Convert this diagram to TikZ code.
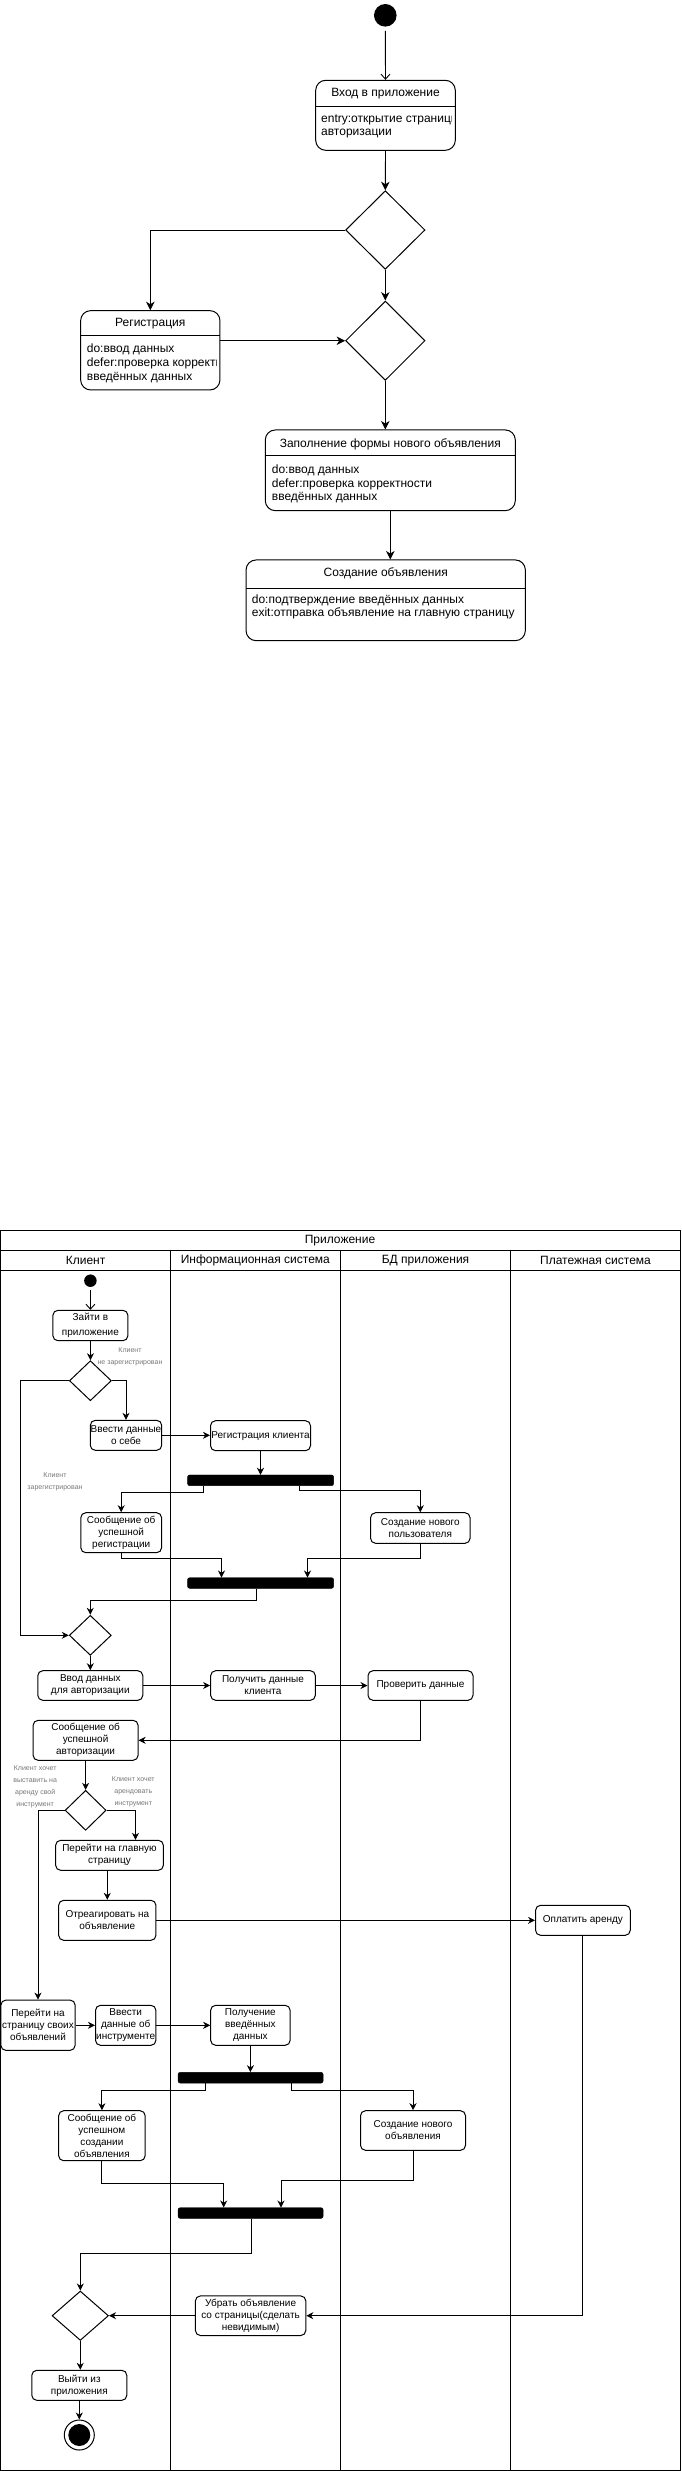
\documentclass[tikz,border=0pt]{standalone}
\usepackage{fontspec}
\setmainfont{Liberation Sans}
\usetikzlibrary{shapes.geometric,arrows.meta,calc}
\definecolor{guardgray}{RGB}{120,120,120}
\begin{document}
\begin{tikzpicture}[x=1pt,y=-1pt,
  ln/.style={line width=0.9pt},
  arr/.style={ln,-{Stealth[length=7pt,width=7pt,inset=2.2pt]}},
  arrT/.style={ln,-{Stealth[length=8.5pt,width=8.5pt,inset=2.6pt]}},
  oarr/.style={ln,-{Straight Barb[length=5pt,width=9pt]}},
  wh/.style 2 args={minimum width=#1pt,minimum height=#2pt},
  stbox/.style={draw,line width=1pt,rounded corners=10pt,inner sep=0pt},
  sttitle/.style={font=\fontsize{12}{14}\selectfont,inner sep=0pt},
  stbody/.style={font=\fontsize{12}{13.7}\selectfont,align=left,anchor=west,inner sep=0pt},
  act/.style={draw,line width=1pt,rounded corners=5pt,align=center,inner sep=0pt,font=\fontsize{10}{12}\selectfont},
  dec/.style={draw,diamond,line width=1pt,inner sep=0pt},
  bar/.style={fill=black,draw=black,rounded corners=2pt,inner sep=0pt},
  guard/.style={text=guardgray,align=center,font=\fontsize{7}{12}\selectfont,inner sep=0pt},
  lanehead/.style={font=\fontsize{12}{14}\selectfont,inner sep=0pt},
  lane/.style={line width=1pt}
]
\useasboundingbox (0,0) rectangle (681,2471);
\fill[white] (0,0) rectangle (681,2471);

% ---------- state diagram ----------
\node[circle,fill=black,minimum size=22.6pt,inner sep=0pt] (s0) at (385.3,15.3) {};

\node[stbox,wh={139.6}{70}] (b1) at (385.5,115.3) {};
\draw[ln] ($(b1.north west)+(0,26.7)$) -- ($(b1.north east)+(0,26.7)$);
\node[sttitle] (b1t) at (385.5,94) {Вход в приложение};
\begin{scope}
\clip (315.7,107) rectangle (451,150);
\node[stbody] (b1b) at (321,126.5) {entry:открытие страницы\\авторизации};
\end{scope}

\node[dec,wh={79.4}{78.6}] (d1) at (385.3,230) {};
\node[dec,wh={79.4}{79.3}] (d2) at (385.3,340.7) {};

\node[stbox,wh={139.3}{79.3}] (reg) at (150.3,350.3) {};
\draw[ln] ($(reg.north west)+(0,25.3)$) -- ($(reg.north east)+(0,25.3)$);
\node[sttitle] (regt) at (150.3,324) {Регистрация};
\begin{scope}
\clip (80.7,336) rectangle (216.3,390);
\node[stbody] (regb) at (86.7,363.5) {do:ввод данных\\defer:проверка корректности\\введённых данных};
\end{scope}

\node[stbox,wh={250}{80.7}] (fill) at (390.3,470.3) {};
\draw[ln] ($(fill.north west)+(0,26)$) -- ($(fill.north east)+(0,26)$);
\node[sttitle] (fillt) at (390.3,444.3) {Заполнение формы нового объявления};
\node[stbody] (fillb) at (271.7,484) {do:ввод данных\\defer:проверка корректности\\введённых данных};

\node[stbox,wh={279.3}{80.7}] (cr) at (385.7,600.3) {};
\draw[ln] ($(cr.north west)+(0,28.7)$) -- ($(cr.north east)+(0,28.7)$);
\node[sttitle] (crt) at (385.7,573.7) {Создание объявления};
\node[stbody] (crb) at (251.7,607) {do:подтверждение введённых данных\\exit:отправка объявление на главную страницу};

\draw[oarr,shorten <=4pt] (s0.south) -- (b1.north);
\draw[arrT] (b1.south) -- (d1.north);
\draw[arrT] (d1.west) -| (reg.north);
\draw[arrT] (d1.south) -- (d2.north);
\draw[arrT] (reg.east |- d2.west) -- (d2.west);
\draw[arrT] (d2.south) -- (d2.south |- fill.north);
\draw[arrT] (fill.south) -- (fill.south |- cr.north);

% ---------- swimlanes ----------
\draw[lane] (0.5,1230) rectangle (680,2470);
\draw[lane] (0.5,1250.3) -- (680,1250.3);
\draw[lane] (0.5,1270.3) -- (680,1270.3);
\draw[lane] (170.3,1250.3) -- (170.3,2470);
\draw[lane] (340.5,1250.3) -- (340.5,2470);
\draw[lane] (510.3,1250.3) -- (510.3,2470);
\node[lanehead] (ptitle) at (340,1240.3) {Приложение};
\node[lanehead] (h1) at (85.6,1260.3) {Клиент};
\node[lanehead] (h2) at (255.3,1260.3) {Информационная система};
\node[lanehead] (h3) at (425.5,1260.3) {БД приложения};
\node[lanehead] (h4) at (595.5,1260.3) {Платежная система};

\node[circle,fill=black,minimum size=12.5pt,inner sep=0pt] (st2) at (90.4,1280.7) {};
\node[act,wh={75}{30.4},font=\fontsize{10}{15}\selectfont] (zaiti) at (90.4,1325.5) {Зайти в\\приложение};
\node[dec,wh={42}{40}] (dA) at (90.4,1380.7) {};
\node[guard] (g1) at (130,1356.7) {Клиент\\не зарегистрирован};
\node[act,wh={71.4}{30}] (vvesti) at (126,1435.3) {Ввести данные\\о себе};
\node[act,wh={100}{30}] (regkl) at (260.5,1435.7) {Регистрация клиента};
\node[bar,wh={146}{10.7}] (bar1) at (260.6,1480.3) {};
\node[guard] (g2) at (55,1481.7) {Клиент\\зарегистрирован};
\node[act,wh={80.8}{40}] (soobreg) at (121.2,1532.7) {Сообщение об\\успешной\\регистрации};
\node[act,wh={99.5}{30.6}] (sozdpolz) at (420.3,1528) {Создание нового\\пользователя};
\node[bar,wh={146}{10.6}] (bar2) at (260.6,1583) {};
\node[dec,wh={42}{40}] (dB) at (90.3,1635.3) {};
\node[act,wh={105}{29.6}] (vvodavt) at (90.3,1685.5) {Ввод данных\\для авторизации};
\node[act,wh={104.7}{29.6}] (poluch) at (263,1685.5) {Получить данные\\клиента};
\node[act,wh={105}{29.6}] (prov) at (420.5,1685.5) {Проверить данные};
\node[act,wh={105}{40}] (soobavt) at (85.6,1740.3) {Сообщение об\\успешной\\авторизации};
\node[dec,wh={41}{40}] (dC) at (85.6,1810.3) {};
\node[guard] (g3) at (35.2,1786.3) {Клиент хочет\\выставить на\\аренду свой\\инструмент};
\node[guard] (g4) at (133.3,1791.3) {Клиент хочет\\арендовать\\инструмент};
\node[act,wh={107.7}{30}] (glav) at (109.5,1855.3) {Перейти на главную\\страницу};
\node[act,wh={97.3}{40}] (otreag) at (107.3,1920.3) {Отреагировать на\\объявление};
\node[act,wh={94.7}{30}] (oplat) at (582.9,1920.3) {Оплатить аренду};
\node[act,wh={74.2}{50.3}] (svoi) at (38,2025.2) {Перейти на\\страницу своих\\объявлений};
\node[act,wh={60.4}{40}] (vvinstr) at (125.7,2025.3) {Ввести\\данные об\\инструменте};
\node[act,wh={79.5}{40}] (poluchvv) at (250.4,2025.3) {Получение\\введённых\\данных};
\node[bar,wh={145}{10.7}] (bar3) at (250.6,2077.7) {};
\node[act,wh={86.5}{50}] (soobsozd) at (101.9,2135.7) {Сообщение об\\успешном\\создании\\объявления};
\node[act,wh={105}{39.6}] (sozdobj) at (413,2130.5) {Создание нового\\объявления};
\node[bar,wh={145}{10.6}] (bar4) at (250.6,2213) {};
\node[dec,wh={56.4}{49.4}] (dD) at (80.3,2315.7) {};
\node[act,wh={110.4}{39.6}] (ubrat) at (250.6,2315.7) {Убрать объявление\\со страницы(сделать\\невидимым)};
\node[act,wh={95}{30}] (vyiti) at (79.3,2385.3) {Выйти из\\приложения};
\node[circle,draw,line width=1pt,minimum size=30pt,inner sep=0pt] (end) at (79.3,2435) {};
\node[circle,fill=black,minimum size=22pt,inner sep=0pt] (endin) at (end.center) {};

\coordinate (lx) at (20.4,1380.7);

\draw[oarr,shorten <=3pt] (st2.south) -- (zaiti.north);
\draw[arr] (zaiti.south) -- (dA.north);
\draw[arr] (dA.west) -- (lx) |- (dB.west);
\draw[arr] (dA.east) -| (vvesti.north);
\draw[arr] (vvesti.east) -- (vvesti.east -| regkl.west);
\draw[arr] (regkl.south) -- (regkl.south |- bar1.north);
\draw[arr] ([xshift=-57.3pt]bar1.south) -- ++(0,6.6) -| (soobreg.north);
\draw[arr] ([xshift=39.1pt]bar1.south) -- ++(0,5) -| (sozdpolz.north);
\draw[arr] (soobreg.south) -- ++(0,5.6) -| ([xshift=-39.1pt]bar2.north);
\draw[arr] (sozdpolz.south) -- ++(0,15) -| ([xshift=46.9pt]bar2.north);
\draw[arr] ([xshift=-3.9pt]bar2.south) -- ++(0,11.7) -| (dB.north);
\draw[arr] (dB.south) -- (vvodavt.north);
\draw[arr] (vvodavt.east) -- (poluch.west);
\draw[arr] (poluch.east) -- (prov.west);
\draw[arr] (prov.south) |- (soobavt.east);
\draw[arr] (soobavt.south) -- (dC.north);
\draw[arr] (dC.west) -| (svoi.north);
\draw[arr] (dC.east) -| ([xshift=26pt]glav.north);
\draw[arr] (otreag.north |- glav.south) -- (otreag.north);
\draw[arr] (otreag.east) -- (oplat.west);
\draw[arr] (oplat.south) |- (ubrat.east);
\draw[arr] (svoi.east |- vvinstr.west) -- (vvinstr.west);
\draw[arr] (vvinstr.east) -- (poluchvv.west);
\draw[arr] (poluchvv.south) -- (poluchvv.south |- bar3.north);
\draw[arr] ([xshift=-44.7pt]bar3.south) -- ++(0,7) -| (soobsozd.north);
\draw[arr] ([xshift=40.8pt]bar3.south) -- ++(0,7) -| (sozdobj.north);
\draw[arr] (soobsozd.south) -- ++(0,22.6) -| ([xshift=-26.9pt]bar4.north);
\draw[arr] (sozdobj.south) -- ++(0,30) -| ([xshift=30.4pt]bar4.north);
\draw[arr] ([xshift=1.3pt]bar4.south) -- ++(0,35.4) -| (dD.north);
\draw[arr] (ubrat.west) -- (dD.east);
\draw[arr] (dD.south) -- (dD.south |- vyiti.north);
\draw[arr] (vyiti.south) -- (end.north);
\end{tikzpicture}
\end{document}
